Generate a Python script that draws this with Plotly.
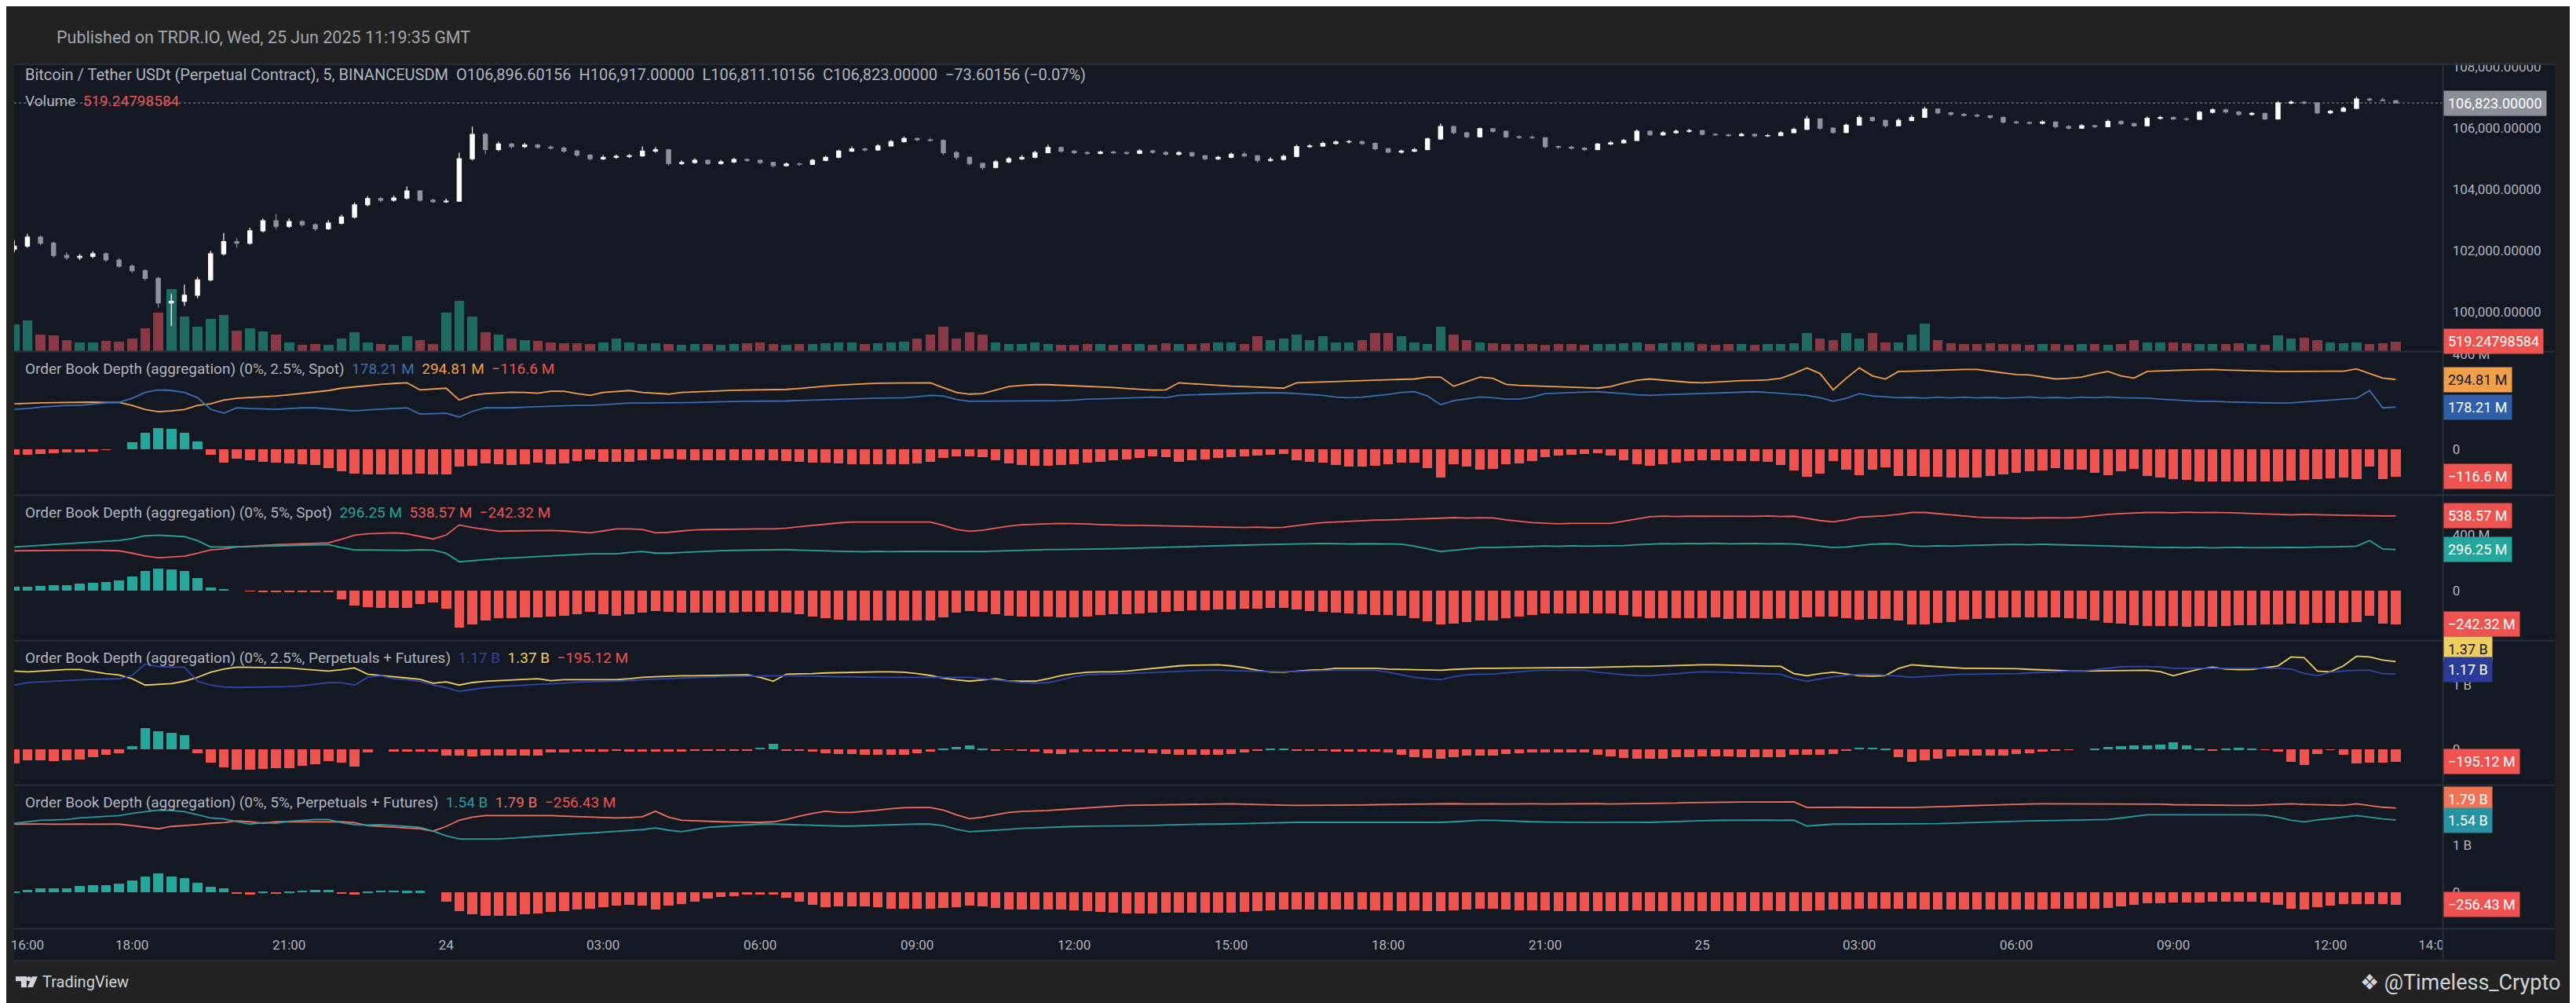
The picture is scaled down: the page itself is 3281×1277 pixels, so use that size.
import pandas as pd
import plotly.graph_objects as go

# screenshot size; the page body adds an 8px margin, so the figure is drawn from (8, 8)
W, H = 3281, 1277
OFF = 8
FW, FH = W - OFF, H - OFF
BG_OUTER = "#222222"
BG_CHART = "#141823"
SEP = "#2a2e39"
TXT = "#b2b5be"
FONT = "Roboto"
RED = "#ef5350"
GREEN = "#26a69a"


def px(x):
    return (x - OFF) / FW


def py(y):
    return 1 - (y - OFF) / FH


# ---- 15 minute bars, 23 Jun 15:45 -> 25 Jun 13:15 (one row per hour) ----
START = "2025-06-23 15:45"

OPEN = [
    102050, 102150, 102450, 102250, 101850,
    101780, 101820, 101900, 101700,
    101500, 101350, 101100, 100300,
    100350, 100550, 101050, 101900,
    102300, 102250, 102650, 102980,
    102800, 102950, 102850, 102720,
    102900, 103100, 103500, 103700,
    103650, 103720, 103950, 103650,
    103600, 103620, 105000, 105800,
    105300, 105480, 105400, 105450,
    105380, 105350, 105250, 105120,
    105000, 105050, 105080, 105100,
    105250, 105300, 104850, 104880,
    104950, 104850, 104900, 104980,
    104950, 104880, 104780, 104830,
    104820, 104950, 105050, 105250,
    105320, 105290, 105420, 105560,
    105660, 105620, 105600, 105200,
    105050, 104850, 104720, 104900,
    105000, 105050, 105200, 105370,
    105250, 105200, 105180, 105220,
    105200, 105180, 105260, 105210,
    105150, 105200, 105100, 105000,
    105050, 105150, 105100, 104950,
    104980, 105080, 105400, 105420,
    105500, 105550, 105560, 105500,
    105330, 105220, 105250, 105300,
    105650, 106050, 105850, 105720,
    105980, 105900, 105720, 105700,
    105690, 105400, 105380, 105350,
    105300, 105480, 105520, 105600,
    105900, 105780, 105850, 105900,
    105920, 105800, 105780, 105760,
    105800, 105750, 105760, 105850,
    105960, 106300, 106000, 105860,
    106100, 106350, 106250, 106080,
    106250, 106350, 106620, 106500,
    106450, 106420, 106400, 106350,
    106200, 106180, 106160, 106200,
    106050, 106000, 106080, 106050,
    106220, 106150, 106080, 106320,
    106350, 106300, 106290, 106520,
    106600, 106530, 106450, 106480,
    106300, 106820, 106850, 106820,
    106500, 106550, 106650, 106950,
    106920, 106896.60156,
]
HIGH = [
    102350, 102560, 102500, 102300, 101950,
    101900, 101980, 101950, 101760,
    101560, 101400, 101150, 100600,
    100900, 101150, 102000, 102580,
    102420, 102750, 103050, 103200,
    103050, 103000, 102900, 103000,
    103180, 103580, 103780, 103760,
    103800, 104100, 103980, 103700,
    103700, 105200, 106050, 105850,
    105560, 105520, 105520, 105500,
    105440, 105400, 105300, 105160,
    105120, 105140, 105160, 105400,
    105380, 105320, 104950, 105020,
    104980, 104960, 105040, 105020,
    104980, 104900, 104880, 104880,
    105000, 105100, 105300, 105400,
    105360, 105480, 105620, 105720,
    105700, 105680, 105640, 105260,
    105080, 104880, 104960, 105060,
    105120, 105260, 105460, 105400,
    105290, 105250, 105270, 105260,
    105250, 105320, 105300, 105250,
    105250, 105230, 105130, 105100,
    105200, 105230, 105130, 105050,
    105140, 105460, 105480, 105560,
    105600, 105620, 105600, 105530,
    105360, 105300, 105360, 105700,
    106150, 106080, 105880, 106020,
    106000, 105930, 105760, 105760,
    105710, 105440, 105420, 105380,
    105520, 105580, 105650, 105960,
    105930, 105900, 105950, 105980,
    105940, 105840, 105820, 105850,
    105830, 105810, 105900, 106020,
    106400, 106320, 106030, 106150,
    106420, 106380, 106280, 106320,
    106420, 106700, 106650, 106540,
    106500, 106470, 106430, 106380,
    106250, 106230, 106260, 106230,
    106100, 106130, 106120, 106280,
    106260, 106180, 106380, 106400,
    106380, 106350, 106560, 106650,
    106640, 106560, 106520, 106500,
    106880, 106900, 106890, 106850,
    106600, 106700, 107020, 106990,
    107000, 106917.00000,
]
LOW = [
    101950, 102100, 102180, 101780, 101700,
    101700, 101760, 101640, 101450,
    101280, 101020, 100150, 99550,
    100200, 100450, 101000, 101850,
    102100, 102200, 102600, 102700,
    102750, 102780, 102650, 102680,
    102860, 103050, 103450, 103580,
    103600, 103680, 103600, 103560,
    103560, 103600, 104950, 105150,
    105250, 105330, 105350, 105320,
    105300, 105200, 105060, 104950,
    104960, 105000, 105030, 105060,
    105200, 104780, 104800, 104840,
    104800, 104810, 104860, 104900,
    104830, 104720, 104740, 104770,
    104800, 104920, 105020, 105220,
    105240, 105260, 105400, 105530,
    105580, 105560, 105120, 104980,
    104780, 104640, 104690, 104860,
    104960, 105020, 105180, 105200,
    105150, 105130, 105140, 105150,
    105130, 105150, 105170, 105100,
    105110, 105060, 104950, 104960,
    105020, 105050, 104880, 104900,
    104940, 105050, 105360, 105390,
    105460, 105500, 105450, 105280,
    105180, 105170, 105210, 105280,
    105620, 105800, 105680, 105700,
    105850, 105680, 105650, 105640,
    105340, 105320, 105300, 105250,
    105280, 105450, 105500, 105580,
    105740, 105750, 105820, 105860,
    105760, 105740, 105720, 105730,
    105700, 105710, 105740, 105830,
    105940, 105950, 105820, 105840,
    106080, 106200, 106020, 106060,
    106220, 106330, 106450, 106400,
    106380, 106350, 106300, 106150,
    106130, 106120, 106120, 106000,
    105960, 105970, 106000, 106030,
    106100, 106040, 106060, 106280,
    106260, 106240, 106270, 106480,
    106480, 106400, 106410, 106260,
    106280, 106780, 106770, 106450,
    106460, 106520, 106620, 106870,
    106880, 106811.10156,
]
CLOSE = [
    102150, 102450, 102250, 101850, 101780,
    101820, 101900, 101700, 101500,
    101350, 101100, 100300, 100350,
    100550, 101050, 101900, 102300,
    102250, 102650, 102980, 102800,
    102950, 102850, 102720, 102900,
    103100, 103500, 103700, 103650,
    103720, 103950, 103650, 103600,
    103620, 105000, 105800, 105300,
    105480, 105400, 105450, 105380,
    105350, 105250, 105120, 105000,
    105050, 105080, 105100, 105250,
    105300, 104850, 104880, 104950,
    104850, 104900, 104980, 104950,
    104880, 104780, 104830, 104820,
    104950, 105050, 105250, 105320,
    105290, 105420, 105560, 105660,
    105620, 105600, 105200, 105050,
    104850, 104720, 104900, 105000,
    105050, 105200, 105370, 105250,
    105200, 105180, 105220, 105200,
    105180, 105260, 105210, 105150,
    105200, 105100, 105000, 105050,
    105150, 105100, 104950, 104980,
    105080, 105400, 105420, 105500,
    105550, 105560, 105500, 105330,
    105220, 105250, 105300, 105650,
    106050, 105850, 105720, 105980,
    105900, 105720, 105700, 105690,
    105400, 105380, 105350, 105300,
    105480, 105520, 105600, 105900,
    105780, 105850, 105900, 105920,
    105800, 105780, 105760, 105800,
    105750, 105760, 105850, 105960,
    106300, 106000, 105860, 106100,
    106350, 106250, 106080, 106250,
    106350, 106620, 106500, 106450,
    106420, 106400, 106350, 106200,
    106180, 106160, 106200, 106050,
    106000, 106080, 106050, 106220,
    106150, 106080, 106320, 106350,
    106300, 106290, 106520, 106600,
    106530, 106450, 106480, 106300,
    106820, 106850, 106820, 106500,
    106550, 106650, 106950, 106920,
    106896.60156, 106823.00000,
]
VOLUME = [
    1400, 1600, 900, 850, 600,
    480, 500, 560, 520,
    700, 1200, 2000, 3200,
    1800, 1300, 1700, 1900,
    1100, 1200, 1050, 900,
    500, 380, 420, 380,
    700, 1000, 500, 420,
    380, 800, 600, 420,
    2000, 2600, 1800, 1000,
    900, 700, 600, 550,
    500, 450, 450, 420,
    480, 700, 500, 420,
    450, 420, 380, 400,
    420, 380, 400, 450,
    500, 420, 380, 400,
    420, 450, 500, 480,
    420, 450, 500, 520,
    700, 900, 1300, 700,
    1000, 900, 500, 420,
    400, 480, 420, 380,
    380, 420, 400, 380,
    420, 400, 380, 450,
    400, 420, 450, 480,
    500, 420, 820, 600,
    700, 900, 600, 800,
    500, 480, 600, 960,
    950, 800, 500, 420,
    1300, 900, 600, 500,
    450, 420, 400, 420,
    380, 420, 400, 380,
    400, 420, 450, 500,
    420, 450, 500, 480,
    420, 380, 400, 400,
    380, 400, 420, 450,
    960, 700, 600, 950,
    700, 950, 500, 480,
    900, 1440, 600, 450,
    420, 400, 450, 420,
    400, 380, 420, 400,
    380, 420, 400, 380,
    420, 600, 500, 480,
    500, 450, 420, 400,
    420, 450, 400, 380,
    840, 700, 720, 600,
    500, 450, 480, 420,
    460, 519.24798584,
]

# Order book depth, millions of USD (bid side / ask side)
SPOT25_BID = [
    169, 172, 178, 182, 185,
    185, 190, 196, 198,
    215, 240, 251, 248,
    240, 218, 169, 152,
    175, 172, 170, 169,
    172, 175, 175, 170,
    165, 162, 166, 169,
    172, 175, 149, 150,
    152, 136, 160, 175,
    175, 175, 178, 180,
    183, 185, 185, 185,
    188, 192, 195, 195,
    195, 195, 197, 198,
    200, 200, 202, 203,
    203, 203, 204, 206,
    208, 210, 212, 214,
    215, 216, 217, 218,
    222, 228, 225, 210,
    203, 203, 205, 205,
    205, 204, 203, 205,
    208, 212, 213, 215,
    216, 218, 220, 218,
    228, 230, 232, 234,
    236, 237, 238, 238,
    238, 235, 232, 228,
    220, 218, 220, 225,
    232, 240, 243, 225,
    188, 205, 212, 221,
    218, 212, 212, 220,
    235, 238, 240, 242,
    243, 240, 235, 230,
    228, 230, 232, 234,
    235, 238, 240, 242,
    243, 240, 236, 232,
    228, 218, 203, 215,
    235, 225, 221, 218,
    219, 216, 220, 217,
    220, 217, 219, 216,
    218, 221, 217, 219,
    216, 220, 218, 221,
    218, 218, 216, 212,
    208, 205, 203, 203,
    200, 198, 197, 196,
    195, 196, 200, 205,
    208, 212, 215, 248,
    175, 178.21,
]
SPOT25_ASK = [
    192, 195, 196, 197, 198,
    198, 199, 198, 198,
    185, 168, 159, 162,
    168, 185, 192, 208,
    215, 218, 222, 225,
    230, 236, 241, 248,
    258, 264, 270, 274,
    278, 281, 251, 255,
    258, 208, 228, 235,
    238, 241, 240, 237,
    245, 245, 235, 228,
    240, 245, 248, 240,
    237, 233, 240, 243,
    245, 247, 249, 250,
    250, 250, 253, 257,
    263, 267, 271, 275,
    277, 279, 280, 281,
    281, 281, 260, 240,
    233, 235, 250, 265,
    270, 273, 273, 271,
    269, 266, 265, 261,
    257, 253, 250, 251,
    281, 277, 273, 270,
    267, 265, 263, 260,
    258, 281, 283, 285,
    287, 289, 291, 293,
    295, 296, 297, 305,
    305, 266, 285, 305,
    300, 274, 270, 268,
    266, 264, 262, 260,
    258, 265, 280, 292,
    297, 292, 287, 283,
    281, 284, 288, 290,
    291, 293, 300, 320,
    344, 320, 251, 300,
    344, 310, 297, 329,
    330, 332, 334, 335,
    337, 337, 330, 322,
    316, 314, 305, 297,
    300, 305, 318, 329,
    310, 301, 329, 330,
    333, 335, 337, 337,
    335, 333, 331, 330,
    329, 329, 330, 330,
    330, 330, 340, 320,
    301, 294.81,
]
SPOT5_BID = [
    315, 320, 325, 330, 336,
    344, 350, 355, 361,
    375, 395, 400, 395,
    389, 360, 315, 315,
    315, 318, 320, 321,
    325, 328, 330, 332,
    310, 293, 293, 293,
    293, 290, 295, 292,
    270, 208, 215, 225,
    231, 235, 240, 244,
    248, 252, 258, 265,
    265, 265, 275, 282,
    270, 270, 275, 280,
    285, 288, 290, 292,
    294, 296, 296, 292,
    288, 285, 283, 282,
    280, 284, 281, 283,
    283, 280, 282, 284,
    282, 282, 285, 288,
    292, 294, 296, 296,
    296, 298, 300, 302,
    305, 308, 310, 312,
    315, 318, 320, 322,
    325, 328, 330, 332,
    336, 339, 337, 340,
    339, 336, 338, 337,
    338, 335, 320, 300,
    282, 290, 300, 310,
    310, 312, 315, 318,
    322, 319, 323, 320,
    321, 321, 325, 330,
    336, 339, 337, 340,
    338, 341, 337, 339,
    340, 337, 339, 336,
    330, 320, 310, 315,
    325, 335, 338, 335,
    322, 319, 323, 320,
    325, 328, 330, 332,
    333, 330, 334, 331,
    330, 328, 325, 322,
    318, 315, 312, 310,
    311, 309, 312, 308,
    310, 312, 309, 311,
    309, 311, 310, 315,
    315, 318, 320, 361,
    300, 296.25,
]
SPOT5_ASK = [
    287, 288, 290, 291, 292,
    293, 292, 290, 287,
    270, 250, 237, 242,
    248, 270, 293, 300,
    315, 320, 328, 332,
    335, 338, 341, 344,
    370, 400, 410, 415,
    417, 410, 390, 372,
    400, 473, 455, 440,
    428, 430, 432, 433,
    434, 430, 425, 417,
    430, 445, 445, 440,
    417, 420, 430, 438,
    440, 442, 444, 445,
    445, 445, 450, 460,
    470, 480, 488, 494,
    494, 497, 495, 498,
    496, 494, 470, 440,
    428, 435, 450, 465,
    475, 480, 482, 484,
    484, 480, 476, 472,
    470, 470, 468, 465,
    462, 460, 458, 458,
    457, 455, 458, 454,
    456, 470, 480, 490,
    495, 500, 505, 508,
    510, 512, 515, 520,
    522, 526, 523, 525,
    524, 510, 500, 490,
    486, 482, 485, 483,
    484, 484, 500, 515,
    533, 537, 534, 536,
    536, 533, 537, 534,
    535, 538, 534, 536,
    520, 505, 496, 510,
    530, 535, 540, 550,
    563, 563, 555, 545,
    535, 530, 526, 524,
    525, 522, 526, 523,
    524, 530, 540, 550,
    555, 560, 563, 563,
    561, 565, 562, 564,
    563, 560, 555, 550,
    549, 546, 550, 547,
    546, 546, 545, 540,
    538, 538.57,
]
PERP25_BID = [
    1000, 1037, 1050, 1060, 1075,
    1085, 1090, 1095, 1098,
    1150, 1329, 1290, 1280,
    1280, 1061, 1000, 970,
    963, 965, 970, 976,
    976, 990, 1010, 1037,
    1037, 1000, 1120, 1146,
    1100, 1080, 1060, 1000,
    960, 902, 930, 960,
    976, 990, 1000, 1010,
    1020, 1037, 1045, 1050,
    1055, 1061, 1070, 1085,
    1090, 1100, 1110, 1122,
    1125, 1130, 1135, 1140,
    1146, 1146, 1146, 1146,
    1140, 1135, 1130, 1125,
    1122, 1122, 1122, 1122,
    1122, 1122, 1122, 1122,
    1122, 1100, 1080, 1060,
    1040, 1030, 1040, 1080,
    1130, 1160, 1171, 1171,
    1180, 1190, 1200, 1210,
    1220, 1225, 1232, 1232,
    1225, 1220, 1215, 1210,
    1207, 1210, 1220, 1225,
    1232, 1232, 1232, 1232,
    1200, 1160, 1120, 1100,
    1085, 1130, 1160, 1171,
    1171, 1190, 1210, 1225,
    1232, 1232, 1232, 1232,
    1200, 1180, 1160, 1150,
    1146, 1160, 1180, 1195,
    1207, 1207, 1200, 1190,
    1180, 1175, 1171, 1100,
    1061, 1100, 1130, 1150,
    1171, 1171, 1160, 1140,
    1122, 1130, 1145, 1160,
    1171, 1171, 1171, 1171,
    1180, 1190, 1200, 1210,
    1215, 1220, 1240, 1265,
    1285, 1293, 1293, 1285,
    1262, 1262, 1262, 1262,
    1262, 1262, 1262, 1262,
    1262, 1250, 1183, 1146,
    1200, 1220, 1232, 1232,
    1180, 1172,
]
PERP25_ASK = [
    1220, 1207, 1220, 1235, 1244,
    1244, 1210, 1180, 1159,
    1100, 1000, 1010, 1024,
    1061, 1122, 1200, 1250,
    1280, 1275, 1270, 1268,
    1268, 1250, 1235, 1220,
    1240, 1268, 1170, 1146,
    1130, 1110, 1090, 1030,
    1050, 1000, 1040, 1060,
    1070, 1080, 1090, 1100,
    1070, 1085, 1085, 1085,
    1085, 1085, 1100, 1122,
    1130, 1140, 1146, 1146,
    1150, 1155, 1160, 1160,
    1120, 1061, 1171, 1171,
    1180, 1190, 1195, 1200,
    1207, 1207, 1207, 1200,
    1180, 1150, 1110, 1080,
    1061, 1080, 1100, 1061,
    1061, 1061, 1100, 1150,
    1180, 1200, 1207, 1207,
    1220, 1240, 1260, 1280,
    1300, 1310, 1317, 1317,
    1300, 1270, 1230, 1205,
    1200, 1220, 1235, 1240,
    1262, 1262, 1262, 1262,
    1250, 1245, 1240, 1235,
    1232, 1245, 1255, 1262,
    1262, 1265, 1268, 1270,
    1273, 1273, 1273, 1273,
    1280, 1285, 1290, 1293,
    1293, 1300, 1305, 1310,
    1317, 1317, 1310, 1305,
    1300, 1295, 1293, 1180,
    1146, 1180, 1200, 1170,
    1146, 1140, 1150, 1260,
    1317, 1300, 1285, 1270,
    1262, 1262, 1262, 1262,
    1255, 1245, 1235, 1228,
    1222, 1220, 1222, 1225,
    1228, 1232, 1232, 1210,
    1146, 1200, 1250, 1280,
    1250, 1240, 1245, 1270,
    1300, 1439, 1427, 1220,
    1207, 1300, 1451, 1439,
    1390, 1367.12,
]
PERP5_BID = [
    1467, 1500, 1533, 1540, 1550,
    1583, 1600, 1615, 1633,
    1680, 1720, 1750, 1740,
    1717, 1650, 1583, 1560,
    1500, 1450, 1480, 1470,
    1510, 1530, 1550, 1550,
    1480, 1440, 1430, 1440,
    1420, 1400, 1380, 1300,
    1200, 1133, 1133, 1133,
    1133, 1150, 1170, 1190,
    1217, 1230, 1245, 1260,
    1280, 1300, 1320, 1333,
    1367, 1320, 1290, 1330,
    1380, 1400, 1420, 1440,
    1450, 1450, 1440, 1430,
    1420, 1410, 1408, 1408,
    1420, 1430, 1440, 1445,
    1450, 1450, 1420, 1340,
    1290, 1300, 1320, 1340,
    1360, 1367, 1380, 1390,
    1400, 1405, 1408, 1408,
    1408, 1410, 1420, 1430,
    1440, 1445, 1450, 1450,
    1450, 1460, 1470, 1480,
    1485, 1488, 1488, 1488,
    1490, 1485, 1492, 1487,
    1489, 1484, 1491, 1486,
    1488, 1500, 1515, 1533,
    1533, 1520, 1510, 1500,
    1495, 1490, 1488, 1488,
    1486, 1491, 1485, 1490,
    1488, 1500, 1510, 1520,
    1525, 1530, 1533, 1533,
    1531, 1536, 1530, 1534,
    1408, 1430, 1450, 1450,
    1452, 1447, 1455, 1449,
    1450, 1450, 1460, 1470,
    1480, 1490, 1500, 1510,
    1515, 1520, 1525, 1530,
    1533, 1533, 1533, 1550,
    1580, 1620, 1650, 1650,
    1648, 1653, 1646, 1651,
    1650, 1650, 1650, 1640,
    1600, 1533, 1500, 1540,
    1567, 1600, 1633, 1600,
    1560, 1537,
]
PERP5_ASK = [
    1450, 1445, 1452, 1448, 1455,
    1450, 1447, 1453, 1450,
    1420, 1380, 1350, 1400,
    1417, 1440, 1467, 1480,
    1520, 1500, 1467, 1500,
    1500, 1496, 1503, 1499,
    1500, 1480, 1420, 1400,
    1380, 1370, 1350, 1300,
    1400, 1533, 1600, 1633,
    1633, 1640, 1640, 1635,
    1633, 1620, 1610, 1600,
    1590, 1583, 1590, 1607,
    1725, 1600, 1533, 1520,
    1510, 1500, 1495, 1490,
    1488, 1500, 1550, 1620,
    1680, 1725, 1700, 1700,
    1720, 1750, 1780, 1800,
    1805, 1805, 1750, 1650,
    1567, 1600, 1650, 1700,
    1720, 1725, 1740, 1760,
    1780, 1800, 1820, 1840,
    1850, 1855, 1860, 1865,
    1870, 1875, 1880, 1883,
    1883, 1875, 1865, 1860,
    1855, 1850, 1850, 1850,
    1850, 1855, 1860, 1865,
    1870, 1875, 1880, 1883,
    1880, 1886, 1881, 1885,
    1884, 1879, 1886, 1882,
    1881, 1885, 1880, 1884,
    1886, 1881, 1884, 1879,
    1883, 1890, 1900, 1910,
    1915, 1920, 1923, 1923,
    1921, 1925, 1920, 1924,
    1805, 1810, 1810, 1810,
    1806, 1802, 1808, 1804,
    1805, 1810, 1820, 1830,
    1840, 1850, 1860, 1870,
    1875, 1880, 1883, 1883,
    1880, 1885, 1882, 1886,
    1883, 1883, 1883, 1875,
    1865, 1860, 1855, 1850,
    1850, 1850, 1850, 1860,
    1870, 1883, 1870, 1860,
    1850, 1850, 1883, 1850,
    1810, 1793.43,
]

TICK_TIMES = [
    "2025-06-23 16:00", "2025-06-23 18:00", "2025-06-23 21:00",
    "2025-06-24 00:00", "2025-06-24 03:00", "2025-06-24 06:00",
    "2025-06-24 09:00", "2025-06-24 12:00", "2025-06-24 15:00",
    "2025-06-24 18:00", "2025-06-24 21:00", "2025-06-25 00:00",
    "2025-06-25 03:00", "2025-06-25 06:00", "2025-06-25 09:00",
    "2025-06-25 12:00", "2025-06-25 14:00",
]
TICK_TEXT = ["16:00", "18:00", "21:00", "24", "03:00", "06:00", "09:00", "12:00",
             "15:00", "18:00", "21:00", "25", "03:00", "06:00", "09:00", "12:00", "14:00"]

PRICE_TICKS = [100000, 102000, 104000, 106000, 108000]

n = len(CLOSE)
for arr in (OPEN, HIGH, LOW, VOLUME, SPOT25_BID, SPOT25_ASK, SPOT5_BID, SPOT5_ASK,
            PERP25_BID, PERP25_ASK, PERP5_BID, PERP5_ASK):
    assert len(arr) == n, len(arr)

times = pd.date_range(START, periods=n, freq="15min")
bar_w = 15 * 60 * 1000 * 0.75

# pane layout in screenshot pixels
PRICE_PANE = (75, 443)
AXIS_X = 3122
PANES = [
    dict(name="0%, 2.5%, Spot", bid=SPOT25_BID, ask=SPOT25_ASK, top=443, bot=627,
         rng=[-195, 413], ticks=[0, 400], ticktext=["0", "400 M"],
         bidc="#3d6db5", askc="#f0a04b", bid_bg="#2f5fa8", ask_bg="#f0a04b",
         ask_fg="#131722", ask_shift=0, bid_shift=0),
    dict(name="0%, 5%, Spot", bid=SPOT5_BID, ask=SPOT5_ASK, top=627, bot=813,
         rng=[-360, 687], ticks=[0, 400], ticktext=["0", "400 M"],
         bidc="#26a69a", askc="#ef5a5a", bid_bg="#26a69a", ask_bg="#ef5350",
         ask_fg="#ffffff", ask_shift=0, bid_shift=0),
    dict(name="0%, 2.5%, Perpetuals + Futures", bid=PERP25_BID, ask=PERP25_ASK, top=813, bot=998,
         rng=[-561, 1695], ticks=[0, 1000], ticktext=["0", "1 B"],
         bidc="#2f46a6", askc="#efcd5e", bid_bg="#2a3c99", ask_bg="#efcd5e",
         ask_fg="#131722", ask_shift=16, bid_shift=6),
    dict(name="0%, 5%, Perpetuals + Futures", bid=PERP5_BID, ask=PERP5_ASK, top=998, bot=1182,
         rng=[-783, 2283], ticks=[0, 1000], ticktext=["0", "1 B"],
         bidc="#2a9ba3", askc="#ef7058", bid_bg="#2594a0", ask_bg="#ee7455",
         ask_fg="#ffffff", ask_shift=11, bid_shift=0),
]


def fmt_depth(v):
    if abs(v) >= 1000:
        s = f"{v / 1000:.2f}".rstrip("0").rstrip(".") + " B"
    else:
        s = f"{v:.2f}".rstrip("0").rstrip(".") + " M"
    return s.replace("-", "\u2212")


fig = go.Figure()

# volume on the base axis, candles on the overlaying axis so they sit on top
vol_colors = ["#1f6b62" if c >= o else "#8a3843" for o, c in zip(OPEN, CLOSE)]
fig.add_trace(go.Bar(x=times, y=VOLUME, width=bar_w, marker=dict(color=vol_colors, line_width=0),
                     xaxis="x", yaxis="y", hoverinfo="skip"))
fig.add_trace(go.Candlestick(
    x=times, open=OPEN, high=HIGH, low=LOW, close=CLOSE, xaxis="x", yaxis="y2",
    increasing=dict(line=dict(color="#ffffff", width=1.2), fillcolor="#ffffff"),
    decreasing=dict(line=dict(color="#8f929b", width=1.2), fillcolor="#8f929b"),
    whiskerwidth=0, hoverinfo="skip",
))

LABEL_FONT = 18
layout_axes = {}
annotations = []
for k, p in enumerate(PANES):
    yname = f"y{k + 3}"
    delta = [b - a for b, a in zip(p["bid"], p["ask"])]
    fig.add_trace(go.Bar(x=times, y=delta, width=bar_w, xaxis="x", yaxis=yname,
                         marker=dict(color=[GREEN if d >= 0 else RED for d in delta], line_width=0),
                         hoverinfo="skip"))
    fig.add_trace(go.Scatter(x=times, y=p["ask"], mode="lines", xaxis="x", yaxis=yname,
                             line=dict(color=p["askc"], width=1.8), hoverinfo="skip"))
    fig.add_trace(go.Scatter(x=times, y=p["bid"], mode="lines", xaxis="x", yaxis=yname,
                             line=dict(color=p["bidc"], width=1.8), hoverinfo="skip"))
    layout_axes[f"yaxis{k + 3}"] = dict(
        domain=[py(p["bot"]), py(p["top"])], range=p["rng"], anchor="free", position=px(AXIS_X),
        side="right", showgrid=False, zeroline=False, showline=False,
        tickvals=p["ticks"], ticktext=p["ticktext"], ticklabelstandoff=11,
        tickfont=dict(color=TXT, size=17, family=FONT),
    )
    bid, ask, d = p["bid"][-1], p["ask"][-1], delta[-1]
    legend = (f"Order Book Depth (aggregation) ({p['name']})\u00a0\u00a0"
              f"<span style='color:{p['bidc']}'>{fmt_depth(bid)}</span>\u00a0\u00a0"
              f"<span style='color:{p['askc']}'>{fmt_depth(ask)}</span>\u00a0\u00a0"
              f"<span style='color:{RED}'>{fmt_depth(d)}</span>")
    annotations.append(dict(x=px(26), y=py(p["top"] + 22), text=legend))
    for val, bg, fg, shift in ((ask, p["ask_bg"], p["ask_fg"], p["ask_shift"]),
                               (bid, p["bid_bg"], "#ffffff", p["bid_shift"]),
                               (d, RED, "#ffffff", 0)):
        annotations.append(dict(x=px(AXIS_X), y=val, yref=yname, yshift=shift,
                                text=fmt_depth(val), bgcolor=bg, borderpad=5,
                                font=dict(color=fg, size=LABEL_FONT, family=FONT)))

# price legend and labels
o, h, l, c = OPEN[-1], HIGH[-1], LOW[-1], CLOSE[-1]
chg = c - CLOSE[-2]
pct = chg / CLOSE[-2] * 100
ohlc = (f"Bitcoin / Tether USDt (Perpetual Contract), 5, BINANCEUSDM\u00a0\u00a0"
        f"O{o:,.5f}\u00a0\u00a0H{h:,.5f}\u00a0\u00a0L{l:,.5f}\u00a0\u00a0C{c:,.5f}\u00a0\u00a0"
        f"{chg:,.5f} ({pct:.2f}%)").replace("-", "\u2212")
annotations += [
    dict(x=px(26), y=py(88), text=ohlc, font=dict(color=TXT, size=20, family=FONT)),
    dict(x=px(26), y=py(122),
         text=f"Volume\u00a0\u00a0<span style='color:{RED}'>{VOLUME[-1]:.8f}</span>"),
    dict(x=px(AXIS_X), y=c, yref="y2", text=f"{c:,.5f}", bgcolor="#8c8f98", borderpad=5,
         font=dict(color="#ffffff", size=LABEL_FONT, family=FONT)),
    dict(x=px(AXIS_X), y=VOLUME[-1], yref="y", text=f"{VOLUME[-1]:.8f}", bgcolor=RED, borderpad=5,
         font=dict(color="#ffffff", size=LABEL_FONT, family=FONT)),
    dict(x=px(66), y=py(41), text="Published on TRDR.IO, Wed, 25 Jun 2025 11:19:35 GMT",
         font=dict(color="#a3a6af", size=21.5, family=FONT)),
    dict(x=px(48), y=py(1250), text="TradingView", font=dict(color="#d1d4dc", size=20, family=FONT)),
    dict(x=px(3274), y=py(1251), xanchor="right", text="\u2756 @Timeless_Crypto",
         font=dict(color="#d1d4dc", size=27, family=FONT)),
]
for a in annotations:
    a.setdefault("xref", "paper")
    a.setdefault("yref", "paper")
    a.setdefault("xanchor", "left")
    a.setdefault("yanchor", "middle")
    a.setdefault("showarrow", False)
    a.setdefault("font", dict(color=TXT, size=19, family=FONT))


def rect(x0, y0, x1, y1, color, layer="above"):
    return dict(type="rect", xref="paper", yref="paper", x0=px(x0), x1=px(x1), y0=py(y1), y1=py(y0),
                fillcolor=color, line_width=0, layer=layer)


shapes = [
    rect(14, 75, 3265, 1223, BG_CHART, layer="below"),
    # clip axis labels that run past the chart frame
    rect(0, 0, W, 74, BG_OUTER),
    rect(AXIS_X, 1183, 3265, 1222, BG_CHART),
    dict(type="line", xref="paper", yref="y2", x0=px(14), x1=px(AXIS_X), y0=c, y1=c,
         line=dict(color="#9598a1", width=1, dash="dot"), layer="below"),
    # TradingView logo
    rect(16, 1243, 30, 1249, "#d1d4dc"),
    rect(23, 1243, 30, 1257, "#d1d4dc"),
    dict(type="circle", xref="paper", yref="paper", x0=px(30), x1=px(36), y0=py(1249), y1=py(1243),
         fillcolor="#d1d4dc", line_width=0),
    dict(type="path", xref="paper", yref="paper",
         path=f"M {px(37)} {py(1243)} L {px(44)} {py(1243)} L {px(38)} {py(1257)} L {px(31)} {py(1257)} Z",
         fillcolor="#d1d4dc", line_width=0),
    dict(type="line", xref="paper", yref="paper", x0=px(AXIS_X), x1=px(AXIS_X), y0=py(1223), y1=py(75),
         line=dict(color=SEP, width=2), layer="above"),
]
for y in (75, 443, 627, 813, 998, 1182, 1223):
    shapes.append(dict(type="line", xref="paper", yref="paper", x0=px(14), x1=px(3265),
                       y0=py(y), y1=py(y), line=dict(color=SEP, width=2), layer="above"))

fig.update_layout(
    width=FW, height=FH, autosize=False, margin=dict(l=0, r=0, t=0, b=0, pad=0),
    paper_bgcolor=BG_OUTER, plot_bgcolor="rgba(0,0,0,0)",
    showlegend=False, hovermode=False, bargap=0, boxgap=0.55,
    font=dict(family=FONT, color=TXT),
    xaxis=dict(domain=[px(14), px(AXIS_X)], anchor="free", position=py(1182),
               range=["2025-06-23 15:44:45", "2025-06-25 14:09:15"],
               tickvals=TICK_TIMES, ticktext=TICK_TEXT, ticklabelstandoff=8,
               tickfont=dict(color=TXT, size=17, family=FONT),
               showgrid=False, zeroline=False, showline=False, rangeslider=dict(visible=False)),
    yaxis=dict(domain=[py(PRICE_PANE[1]), py(PRICE_PANE[0])], range=[0, 14700], visible=False,
               anchor="free", position=px(AXIS_X)),
    yaxis2=dict(overlaying="y", range=[98713, 108089], anchor="free", position=px(AXIS_X),
                side="right", tickvals=PRICE_TICKS, tickformat=",.5f", ticklabelstandoff=11,
                tickfont=dict(color=TXT, size=17, family=FONT),
                showgrid=False, zeroline=False, showline=False),
    annotations=annotations,
    shapes=shapes,
    **layout_axes,
)

fig.write_html("out.html")
